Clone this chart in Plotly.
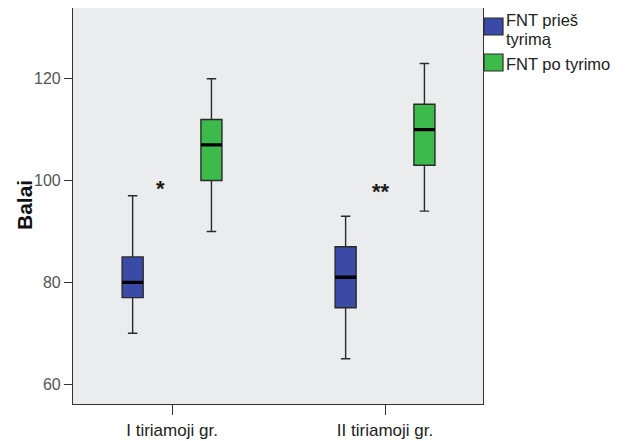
import plotly.graph_objects as go

categories = ["I tiriamoji gr.", "II tiriamoji gr."]

# FNT prieš tyrimą
pre_lower = [70, 65]
pre_q1 = [77, 75]
pre_median = [80, 81]
pre_q3 = [85, 87]
pre_upper = [97, 93]

# FNT po tyrimo
post_lower = [90, 94]
post_q1 = [100, 103]
post_median = [107, 110]
post_q3 = [112, 115]
post_upper = [120, 123]

series_names = ["FNT prieš tyrimą", "FNT po tyrimo"]
legend_lines = [["FNT prieš", "tyrimą"], ["FNT po tyrimo"]]

sig_labels = ["*", "**"]
sig_y = [98.4, 97.8]
sig_x = [-0.055, 0.98]

blue = "#3B4AA7"
green = "#3DBA4C"
edge = "#2A2A2A"

fig = go.Figure()

def add_box(name, color, group, lf, q1, med, q3, uf):
    fig.add_trace(go.Box(
        x=categories, lowerfence=lf, q1=q1, median=med, q3=q3, upperfence=uf,
        name=name, fillcolor=color, line=dict(color=edge, width=1.4),
        offsetgroup=group, whiskerwidth=0.45, showlegend=False,
        hoverinfo="skip", boxpoints=False,
    ))
    # thick median line overlay
    fig.add_trace(go.Box(
        x=categories, lowerfence=med, q1=med, median=med, q3=med, upperfence=med,
        name=name + " median", fillcolor="rgba(0,0,0,0)",
        line=dict(color="#000000", width=3.4),
        offsetgroup=group, whiskerwidth=0, showlegend=False,
        hoverinfo="skip", boxpoints=False,
    ))

add_box(series_names[0], blue, "pre", pre_lower, pre_q1, pre_median, pre_q3, pre_upper)
add_box(series_names[1], green, "post", post_lower, post_q1, post_median, post_q3, post_upper)

for x, y, t in zip(sig_x, sig_y, sig_labels):
    fig.add_annotation(x=x, y=y, xref="x", yref="y", text="<b>" + t + "</b>",
                       showarrow=False, font=dict(size=22, color="#1a1a1a"))

# page is rendered with an 8px body margin; layout is expressed in page pixels
OFF = 8
L, T, B = 73, 8, 404
W, H = 410, B - T
def px(x):
    return (x - L) / W
def py(y):
    return (B - y) / H

# legend (drawn manually to match SPSS style)
swatches = [(18, 35, blue), (54, 71, green)]
for (y0, y1, c) in swatches:
    fig.add_shape(type="rect", xref="paper", yref="paper",
                  x0=px(484), x1=px(503), y0=py(y1), y1=py(y0),
                  fillcolor=c, line=dict(color=edge, width=1.2))

text_rows = [(legend_lines[0][0], 20), (legend_lines[0][1], 39), (legend_lines[1][0], 64)]
for txt, yc in text_rows:
    fig.add_annotation(x=px(504), y=py(yc), xref="paper", yref="paper",
                       text=txt, showarrow=False, xanchor="left", yanchor="middle",
                       font=dict(size=16.5, color="#222222"))

# y-axis title
fig.add_annotation(x=px(24), y=py(205), xref="paper", yref="paper",
                   text="<b>Balai</b>", textangle=-90, showarrow=False,
                   xanchor="center", yanchor="middle",
                   font=dict(size=21, color="#111111"))

fig.update_layout(
    width=634 - OFF, height=441 - OFF,
    margin=dict(l=L - OFF, r=634 - (L + W), t=T - OFF, b=441 - B),
    paper_bgcolor="white",
    plot_bgcolor="#EBECEE",
    boxmode="group",
    boxgap=0.26,
    boxgroupgap=0.733,
    font=dict(family="Arial, Liberation Sans, sans-serif", color="#333333"),
    showlegend=False,
)

fig.update_xaxes(
    type="category", categoryorder="array", categoryarray=categories,
    range=[-0.465, 1.46], showline=True, linecolor="#333333", linewidth=1.2,
    mirror=True, ticks="outside", ticklen=10, tickcolor="#333333", tickwidth=1.2,
    tickfont=dict(size=17, color="#222222"), showgrid=False, automargin=False,
)
fig.update_yaxes(
    range=[56.1, 133.9], tickvals=[60, 80, 100, 120],
    showline=True, linecolor="#333333", linewidth=1.2, mirror=True,
    ticks="outside", ticklen=8, tickcolor="#333333", tickwidth=1.2,
    tickfont=dict(size=16, color="#555555"), showgrid=False, zeroline=False,
    automargin=False,
)

fig.write_html("out.html")
